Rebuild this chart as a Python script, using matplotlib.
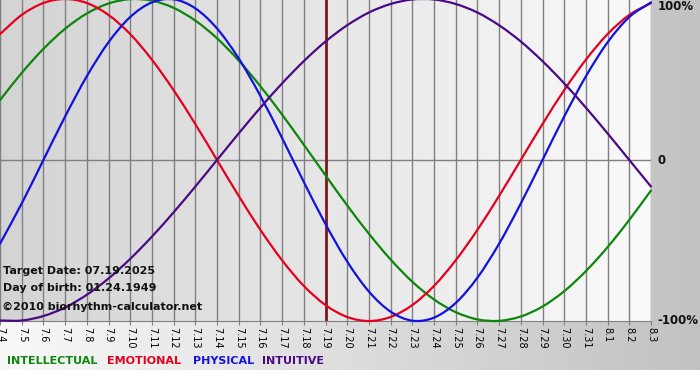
import numpy as np
import matplotlib
matplotlib.use("Agg")
import matplotlib.pyplot as plt
from matplotlib.path import Path
from matplotlib.patches import PathPatch

# ---- data ----
dates = ["7.4", "7.5", "7.6", "7.7", "7.8", "7.9", "7.10", "7.11", "7.12", "7.13",
         "7.14", "7.15", "7.16", "7.17", "7.18", "7.19", "7.20", "7.21", "7.22", "7.23",
         "7.24", "7.25", "7.26", "7.27", "7.28", "7.29", "7.30", "7.31", "8.1", "8.2", "8.3"]

intellectual = [0.372, 0.541, 0.690, 0.815, 0.910, 0.972, 0.999, 0.990, 0.945, 0.866,
                0.756, 0.618, 0.458, 0.282, 0.095, -0.095, -0.282, -0.458, -0.618, -0.756,
                -0.866, -0.945, -0.990, -0.999, -0.972, -0.910, -0.815, -0.690, -0.541,
                -0.372, -0.189]

emotional = [0.782, 0.901, 0.975, 1.000, 0.975, 0.901, 0.782, 0.623, 0.434, 0.223,
             0.000, -0.223, -0.434, -0.623, -0.782, -0.901, -0.975, -1.000, -0.975, -0.901,
             -0.782, -0.623, -0.434, -0.223, 0.000, 0.223, 0.434, 0.623, 0.782, 0.901, 0.975]

physical = [-0.520, -0.270, 0.000, 0.270, 0.520, 0.731, 0.888, 0.979, 0.998, 0.942,
            0.817, 0.631, 0.398, 0.136, -0.136, -0.398, -0.631, -0.817, -0.942, -0.998,
            -0.979, -0.888, -0.731, -0.520, -0.270, 0.000, 0.270, 0.520, 0.731, 0.888, 0.979]

intuitive = [-0.997, -0.997, -0.969, -0.916, -0.837, -0.736, -0.614, -0.476, -0.325, -0.165,
             0.000, 0.165, 0.325, 0.476, 0.614, 0.736, 0.837, 0.916, 0.969, 0.997,
             0.997, 0.969, 0.916, 0.837, 0.736, 0.614, 0.476, 0.325, 0.165, 0.000, -0.165]

target_date = "7.19"
series = [("INTELLECTUAL", intellectual, "#0c860c"),
          ("EMOTIONAL", emotional, "#e6001e"),
          ("PHYSICAL", physical, "#1212e0"),
          ("INTUITIVE", intuitive, "#4a0a86")]

W, H = 700, 380
fig = plt.figure(figsize=(W / 100, H / 100), dpi=100)

# figure background: horizontal gradient light->dark, white strip at bottom
bg = fig.add_axes([0, 0, 1, 1])
bg.set_axis_off()
row = np.linspace(0.975, 0.76, W)
img = np.tile(row, (H, 1))
img[370:, :] = 1.0
bg.imshow(np.dstack([img, img, img]), aspect="auto", extent=(0, W, H, 0))
bg.set_xlim(0, W)
bg.set_ylim(H, 0)

ax = fig.add_axes([0, 59 / H, 651 / W, 322 / H])
x = np.arange(len(dates))
ax.set_xlim(0, len(dates) - 1)
ax.set_ylim(-1, 1)
grad = np.tile(np.linspace(0.83, 0.98, 256), (2, 1))
ax.imshow(np.dstack([grad, grad, grad]), aspect="auto",
          extent=(0, len(dates) - 1, -1, 1), zorder=0)

ax.set_xticks(x)
ax.set_xticklabels(dates, rotation=-90, fontsize=7, family="DejaVu Sans")
ax.tick_params(axis="x", length=3, color="#808080", pad=1)
ax.set_yticks([])
ax.grid(axis="x", color="#808080", lw=1, zorder=1)
ax.axhline(0, color="#808080", lw=1, zorder=1)
for s in ["top", "right", "left"]:
    ax.spines[s].set_visible(False)
ax.spines["bottom"].set_color("#808080")

ti = dates.index(target_date)
ax.axvline(ti, color="#7a1c1c", lw=2, zorder=3)


def smooth_path(xs, ys):
    """Smooth curve through the daily points (Catmull-Rom as cubic Bezier)."""
    P = np.column_stack([xs, ys]).astype(float)
    ext = np.vstack([2 * P[0] - P[1], P, 2 * P[-1] - P[-2]])
    verts = [P[0]]
    codes = [Path.MOVETO]
    for i in range(len(P) - 1):
        p0, p1, p2, p3 = ext[i], ext[i + 1], ext[i + 2], ext[i + 3]
        verts += [p1 + (p2 - p0) / 6, p2 - (p3 - p1) / 6, p2]
        codes += [Path.CURVE4] * 3
    return Path(verts, codes)


for name, vals, col in series:
    patch = PathPatch(smooth_path(x, vals), facecolor="none", edgecolor=col,
                      lw=1.6, zorder=4, clip_on=False, capstyle="round",
                      joinstyle="round")
    ax.add_patch(patch)

# right-side percentage labels
for yv, lab in [(0.955, "100%"), (0.0, "0"), (-1.0, "-100%")]:
    ax.text(len(dates) - 1 + 0.3, yv, lab, fontsize=8.5, fontweight="bold",
            ha="left", va="center", clip_on=False, color="#111111")


def ftext(px, py, s, **kw):
    fig.text(px / W, 1 - py / H, s, va="center", ha="left", **kw)


ftext(3, 271, "Target Date: 07.19.2025", fontsize=8, fontweight="bold", color="#111111")
ftext(3, 288, "Day of birth: 01.24.1949", fontsize=8, fontweight="bold", color="#111111")
ftext(2, 307, "\u00a92010 biorhythm-calculator.net", fontsize=8, fontweight="bold", color="#111111")

legend_x = [7, 107, 193, 262]
for (name, vals, col), lx in zip(series, legend_x):
    ftext(lx, 361, name, fontsize=8, fontweight="bold", color=col)

fig.savefig("out.png", dpi=100)
